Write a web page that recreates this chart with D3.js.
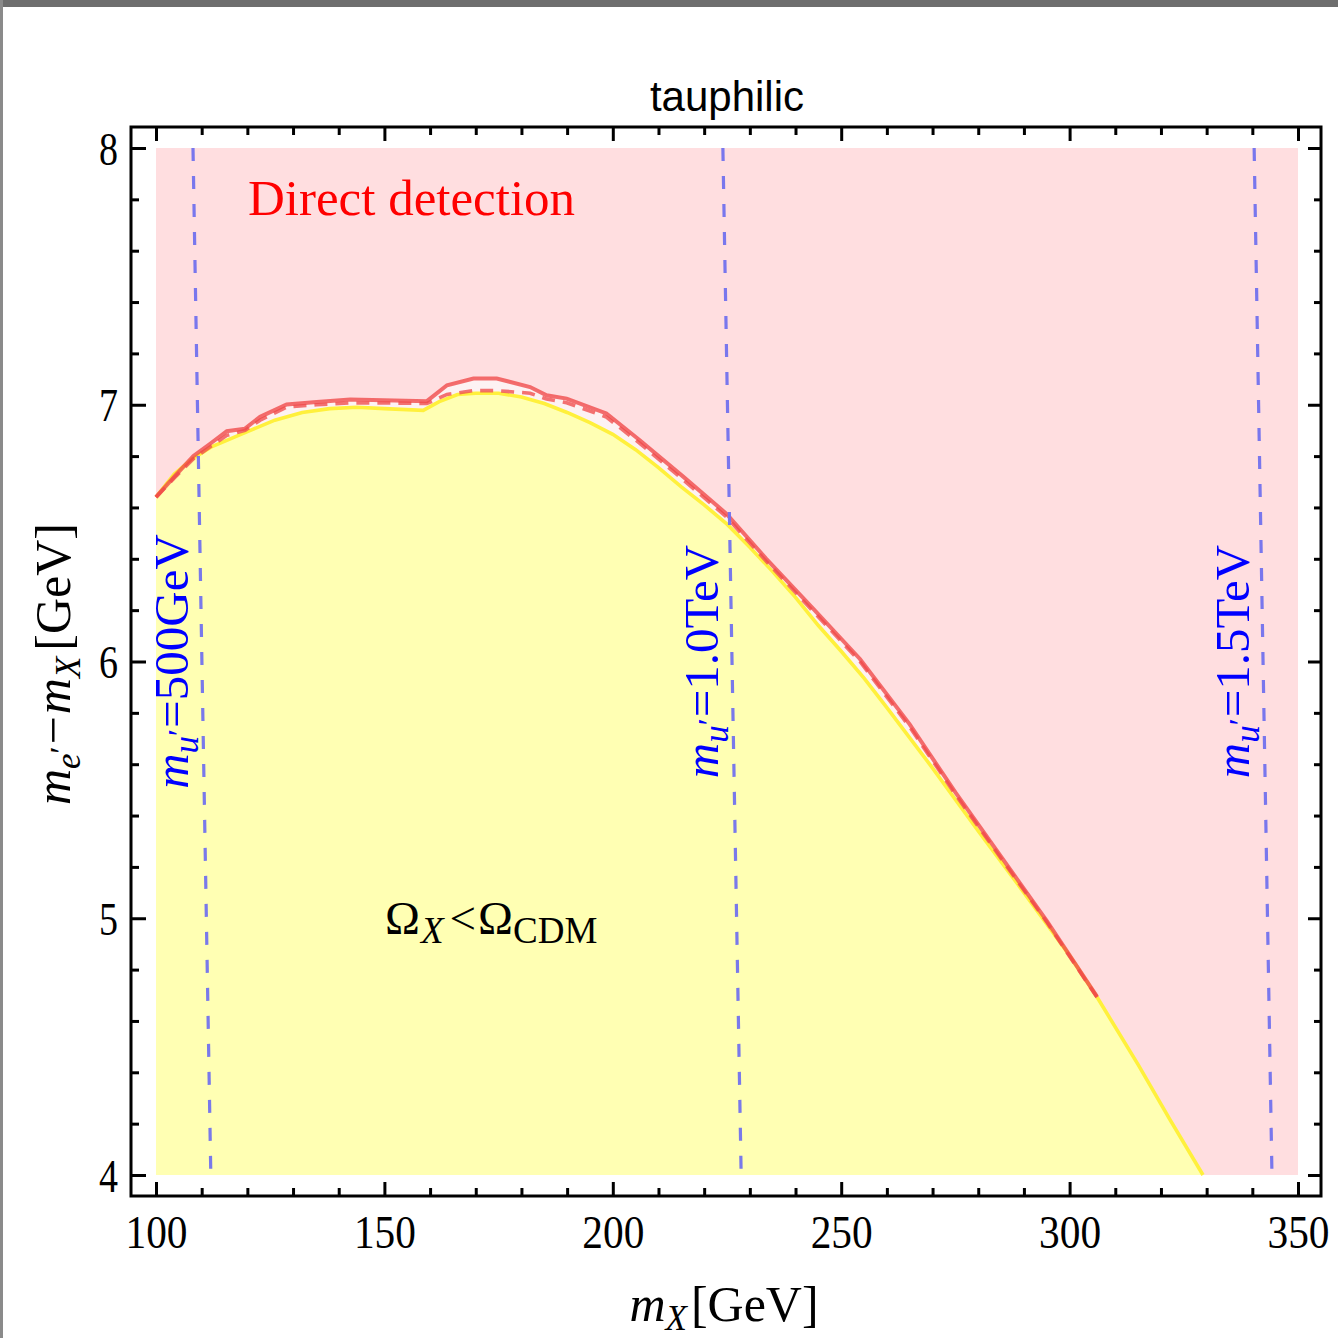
<!DOCTYPE html>
<html><head><meta charset="utf-8">
<script src="https://cdn.jsdelivr.net/npm/d3@7"></script>
<style>html,body{margin:0;padding:0;background:#fff;}svg{display:block;}</style>
</head><body>
<svg id="c" width="1338" height="1338"></svg>
<script>
// ---------------- data ----------------
const title = "tauphilic";
const xTicks = [100,150,200,250,300,350];
const yTicks = [4,5,6,7,8];
// relic-density boundary (Omega_X = Omega_CDM)
const mX_relic = [100,104,108,112,116,120,126,132,138,144,150,158.5,162,166,170,175,180,185,190,195,200,205,210,215,220,225,230,235,240,245,250,255,260,270,280,290,300,306,315,322,329.2];
const relic    = [6.64,6.73,6.79,6.835,6.865,6.895,6.94,6.97,6.985,6.99,6.985,6.978,7.012,7.04,7.045,7.045,7.03,7.005,6.97,6.93,6.885,6.825,6.755,6.68,6.61,6.535,6.445,6.35,6.25,6.14,6.04,5.935,5.82,5.585,5.34,5.10,4.855,4.693,4.43,4.215,4.0];
// direct detection bound (solid) and its dashed companion
const mX_dd    = [100,104,108.2,112,115.5,119.5,122.8,128.6,135.2,142.5,149.8,159.3,163.7,169.5,174.6,181.9,185.5,189.9,198.6,205.9,215.4,224.9,233.6,243.9,254.1,265,275,285,295,306];
const ddSolid  = [6.64,6.72,6.80,6.85,6.897,6.907,6.953,7.001,7.011,7.02,7.018,7.014,7.076,7.102,7.102,7.069,7.037,7.024,6.966,6.862,6.72,6.575,6.40,6.205,6.01,5.755,5.49,5.24,4.99,4.695];
const ddDashed = [6.64,6.715,6.79,6.838,6.881,6.9,6.94,6.991,7.0,7.007,7.007,7.005,7.04,7.055,7.055,7.045,7.022,7.008,6.952,6.85,6.708,6.563,6.39,6.195,6.0,5.745,5.482,5.233,4.985,4.692];
// m_u' contour lines
const muLabels = ["500GeV","1.0TeV","1.5TeV"];
const muTop    = [108.1,224.1,340.4];   // mX at y=8
const muBottom = [112.0,228.1,344.3];   // mX at y=4

// ---------------- setup ----------------
const svg = d3.select("#c");
const serif = "'Liberation Serif','Times New Roman',serif";
const sans = "'Liberation Sans',Arial,sans-serif";
const x = d3.scaleLinear().domain([100,350]).range([156,1298]);
const y = d3.scaleLinear().domain([4,8]).range([1175,148]);
const frame = {l:131, r:1321, t:127, b:1196};

// screenshot border
svg.append("rect").attr("x",0).attr("y",0).attr("width",1338).attr("height",7).attr("fill","#6e6e6e");
svg.append("rect").attr("x",0).attr("y",0).attr("width",3).attr("height",1338).attr("fill","#8a8a8a");

const relicPts = mX_relic.map((d,i)=>[d,relic[i]]);
const solidPts = mX_dd.map((d,i)=>[d,ddSolid[i]]);
const dashPts  = mX_dd.map((d,i)=>[d,ddDashed[i]]);
const line = d3.line().x(d=>x(d[0])).y(d=>y(d[1]));

// gap background (between DD bound and relic bound)
svg.append("rect").attr("x",x(100)).attr("y",y(8)).attr("width",x(350)-x(100)).attr("height",y(4)-y(8)).attr("fill","#fdf2f3");

// pink region: above DD bound (and above relic curve beyond its end)
const pinkPts = [[100,8],[350,8],[350,4]]
  .concat(relicPts.filter(p=>p[0]>306).reverse())
  .concat(solidPts.slice().reverse());
svg.append("path").attr("d", line(pinkPts)+"Z").attr("fill","#ffdee0");

// yellow region
const yellowPts = relicPts.concat([[329.2,4],[100,4]]);
svg.append("path").attr("d", line(yellowPts)+"Z").attr("fill","#ffffb3");

// curves
svg.append("path").attr("d", line(relicPts)).attr("fill","none").attr("stroke","#fff03c").attr("stroke-width",3.6);
svg.append("path").attr("d", line(dashPts)).attr("fill","none").attr("stroke","#f05050").attr("stroke-width",3.6).attr("stroke-dasharray","13,8").attr("opacity",0.8);
svg.append("path").attr("d", line(solidPts)).attr("fill","none").attr("stroke","#f04848").attr("stroke-width",4).attr("opacity",0.78);

// rich text helper
function rich(sel, parts, base){
  let cur = 0;
  parts.forEach(p=>{
    const s = p.shift||0;
    const t = sel.append("tspan").text(p.t)
      .attr("dy", s-cur)
      .style("font-size", (p.size||base)+"px")
      .style("font-style", p.it?"italic":"normal");
    if(p.dx) t.attr("dx", p.dx);
    cur = s;
  });
}

// m_u' lines and labels
muLabels.forEach((lab,i)=>{
  svg.append("line")
    .attr("x1", x(muTop[i])).attr("y1", y(8))
    .attr("x2", x(muBottom[i])).attr("y2", y(4))
    .attr("stroke","#7272ee").attr("stroke-width",3.2).attr("stroke-dasharray","13,15").attr("opacity",0.95);
  const yl = 6;
  const xl = muTop[i] + (muBottom[i]-muTop[i])*(8-yl)/4;
  const t = svg.append("text")
    .attr("transform", `translate(${x(xl)-14},${y(yl)}) rotate(-90)`)
    .attr("text-anchor","middle").attr("fill","#0000ff")
    .style("font-family", serif);
  rich(t, [
    {t:"m", it:true},
    {t:"u", it:true, size:35, shift:10},
    {t:"′", size:32, shift:2},
    {t:"=" + lab, shift:0, dx:1}
  ], 49);
});

// region labels
svg.append("text").attr("x",248).attr("y",215).attr("fill","#ff0000")
  .style("font-family",serif).style("font-size","51px").text("Direct detection");
const om = svg.append("text").attr("x",385).attr("y",934).attr("fill","#000").style("font-family",serif);
rich(om, [
  {t:"Ω"},
  {t:"X", it:true, size:37, shift:9, dx:1},
  {t:"<", shift:0, dx:6},
  {t:"Ω", dx:2},
  {t:"CDM", size:37, shift:9}
], 47);

// frame
svg.append("rect").attr("x",frame.l).attr("y",frame.t).attr("width",frame.r-frame.l).attr("height",frame.b-frame.t)
  .attr("fill","none").attr("stroke","#000").attr("stroke-width",3);

// axes (ticks inward)
const xMinor = d3.range(100,351,10).filter(v=>v%50!==0);
const yMinor = d3.range(4,8.001,0.2).map(v=>+v.toFixed(1)).filter(v=>Math.abs(v-Math.round(v))>1e-6);

function styleAxis(g){ g.select(".domain").remove(); g.selectAll("line").attr("stroke","#000").attr("stroke-width",3); }

const gb = svg.append("g").attr("transform",`translate(0,${frame.b})`)
  .call(d3.axisBottom(x).tickValues(xTicks).tickSize(-14).tickPadding(0).tickFormat(d3.format("d")));
styleAxis(gb);
gb.selectAll("text").attr("y",52).attr("dy",0).attr("fill","#000")
  .style("font-family",serif).style("font-size","47px")
  .attr("textLength",62).attr("lengthAdjust","spacingAndGlyphs");
svg.append("g").attr("transform",`translate(0,${frame.b})`)
  .call(d3.axisBottom(x).tickValues(xMinor).tickSize(-8).tickFormat("")).call(styleAxis);

svg.append("g").attr("transform",`translate(0,${frame.t})`)
  .call(d3.axisTop(x).tickValues(xTicks).tickSize(-14).tickFormat("")).call(styleAxis);
svg.append("g").attr("transform",`translate(0,${frame.t})`)
  .call(d3.axisTop(x).tickValues(xMinor).tickSize(-8).tickFormat("")).call(styleAxis);

const gl = svg.append("g").attr("transform",`translate(${frame.l},0)`)
  .call(d3.axisLeft(y).tickValues(yTicks).tickSize(-15).tickPadding(0).tickFormat(d3.format("d")));
styleAxis(gl);
gl.selectAll("text").attr("x",-13).attr("dy",0).attr("y",16).attr("fill","#000")
  .style("font-family",serif).style("font-size","47px")
  .attr("textLength",19).attr("lengthAdjust","spacingAndGlyphs");
svg.append("g").attr("transform",`translate(${frame.l},0)`)
  .call(d3.axisLeft(y).tickValues(yMinor).tickSize(-8).tickFormat("")).call(styleAxis);

svg.append("g").attr("transform",`translate(${frame.r},0)`)
  .call(d3.axisRight(y).tickValues(yTicks).tickSize(-13).tickFormat("")).call(styleAxis);
svg.append("g").attr("transform",`translate(${frame.r},0)`)
  .call(d3.axisRight(y).tickValues(yMinor).tickSize(-7).tickFormat("")).call(styleAxis);

// title
svg.append("text").attr("x",727).attr("y",111).attr("text-anchor","middle")
  .style("font-family",sans).style("font-size","42px").attr("fill","#000").text(title);

// axis titles
const xl = svg.append("text").attr("x",724).attr("y",1321).attr("text-anchor","middle").style("font-family",serif).attr("fill","#000");
rich(xl, [
  {t:"m", it:true},
  {t:"X", it:true, size:35, shift:9},
  {t:"[GeV]", shift:0, dx:4}
], 50);

const ylab = svg.append("text").attr("transform","translate(70,664) rotate(-90)").attr("text-anchor","middle").style("font-family",serif).attr("fill","#000");
rich(ylab, [
  {t:"m", it:true},
  {t:"e", it:true, size:35, shift:10},
  {t:"′", size:32, shift:2},
  {t:"−", shift:0, dx:2},
  {t:"m", it:true, dx:2},
  {t:"X", it:true, size:35, shift:10},
  {t:"[GeV]", shift:0, dx:6}
], 50);
</script>
</body></html>
